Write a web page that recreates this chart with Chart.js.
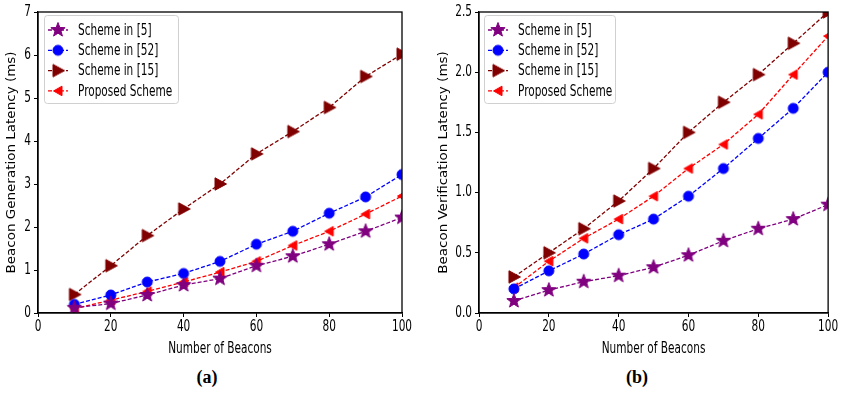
<!DOCTYPE html>
<html><head><meta charset="utf-8">
<script src="https://cdn.jsdelivr.net/npm/chart.js@4/dist/chart.umd.min.js"></script>
<style>
html,body{margin:0;padding:0;background:#fff;}
#wrap{position:relative;width:842px;height:394px;background:#fff;overflow:hidden;}
canvas{position:absolute;top:0;}
.cap{position:absolute;font-family:"Liberation Serif","Times New Roman",serif;font-weight:bold;font-size:18px;color:#000;transform:translateX(-50%);}
</style></head>
<body><div id="wrap">
<canvas id="ca" width="420" height="360" style="left:0"></canvas>
<canvas id="cb" width="422" height="360" style="left:420px"></canvas>
<div class="cap" style="left:207px;top:367px">(a)</div>
<div class="cap" style="left:637px;top:367px">(b)</div>
</div>
<script>
// ---- data ----
const beacons = [10, 20, 30, 40, 50, 60, 70, 80, 90, 100];
const seriesLabels = ['Scheme in [5]', 'Scheme in [52]', 'Scheme in [15]', 'Proposed Scheme'];
const genScheme5   = [0.12, 0.22, 0.42, 0.65, 0.80, 1.10, 1.32, 1.60, 1.90, 2.22];
const genScheme52  = [0.20, 0.42, 0.72, 0.92, 1.20, 1.60, 1.90, 2.32, 2.70, 3.22];
const genScheme15  = [0.43, 1.10, 1.80, 2.42, 3.00, 3.70, 4.22, 4.78, 5.50, 6.02];
const genProposed  = [0.10, 0.30, 0.50, 0.72, 0.95, 1.20, 1.57, 1.90, 2.30, 2.72];
const verScheme5   = [0.10, 0.19, 0.26, 0.31, 0.38, 0.48, 0.60, 0.70, 0.78, 0.90];
const verScheme52  = [0.20, 0.35, 0.49, 0.65, 0.78, 0.97, 1.20, 1.45, 1.70, 2.00];
const verScheme15  = [0.30, 0.50, 0.70, 0.93, 1.20, 1.50, 1.75, 1.98, 2.24, 2.50];
const verProposed  = [0.21, 0.43, 0.62, 0.78, 0.97, 1.20, 1.40, 1.65, 1.98, 2.30];

const FONT = '"DejaVu Sans Condensed","DejaVu Sans",sans-serif';
const colors = ['#800080', '#0000ff', '#800000', '#ff0000'];

// The reference figure's text is horizontally compressed; reproduce that look
// by squeezing glyphs along the page's x direction around their anchor point.
const SQUEEZE = 0.78;
(function () {
  const P = CanvasRenderingContext2D.prototype;
  const orig = P.fillText;
  P.fillText = function (text, x, y, maxWidth) {
    const m = this.getTransform();
    const ax = m.a * x + m.c * y + m.e, ay = m.b * x + m.d * y + m.f;
    this.save();
    this.setTransform(new DOMMatrix().translate(ax, ay).scale(SQUEEZE, 1).translate(-ax, -ay).multiply(m));
    if (maxWidth === undefined) orig.call(this, text, x, y); else orig.call(this, text, x, y, maxWidth / SQUEEZE);
    this.restore();
  };
})();

function makeMarker(kind, color) {
  const s = 18, c = document.createElement('canvas');
  c.width = s; c.height = s;
  const g = c.getContext('2d');
  g.fillStyle = color; g.strokeStyle = color; g.lineWidth = 1;
  const cx = s / 2, cy = s / 2;
  g.beginPath();
  if (kind === 'star') {
    const R = 7.5, r = R * 0.42;
    for (let i = 0; i < 10; i++) {
      const rad = i % 2 === 0 ? R : r;
      const a = -Math.PI / 2 + i * Math.PI / 5;
      const px = cx + rad * Math.cos(a), py = cy + rad * Math.sin(a);
      i === 0 ? g.moveTo(px, py) : g.lineTo(px, py);
    }
    g.closePath();
  } else if (kind === 'circle') {
    g.arc(cx, cy, 5, 0, Math.PI * 2);
  } else if (kind === 'tright') {
    g.moveTo(cx + 6.5, cy); g.lineTo(cx - 5, cy - 6.2); g.lineTo(cx - 5, cy + 6.2); g.closePath();
  } else if (kind === 'tleft') {
    g.moveTo(cx - 4.5, cy); g.lineTo(cx + 4, cy - 4.8); g.lineTo(cx + 4, cy + 4.8); g.closePath();
  }
  g.fill(); g.stroke();
  return c;
}
const markers = [
  makeMarker('star', colors[0]),
  makeMarker('circle', colors[1]),
  makeMarker('tright', colors[2]),
  makeMarker('tleft', colors[3])
];

const framePlugin = {
  id: 'frame',
  afterDraw(chart) {
    const a = chart.chartArea, g = chart.ctx;
    g.save(); g.strokeStyle = '#000'; g.lineWidth = 1.3;
    g.strokeRect(a.left, a.top, a.right - a.left, a.bottom - a.top);
    g.restore();
  }
};
const legendPlugin = {
  id: 'boxLegend',
  afterDraw(chart, args, o) {
    const g = chart.ctx;
    g.save();
    g.fillStyle = 'rgba(255,255,255,0.85)';
    g.strokeStyle = '#d0d0d0'; g.lineWidth = 1;
    const r = 3, x = o.x, y = o.y, w = o.w, h = o.h;
    g.beginPath();
    g.moveTo(x + r, y); g.lineTo(x + w - r, y); g.arcTo(x + w, y, x + w, y + r, r);
    g.lineTo(x + w, y + h - r); g.arcTo(x + w, y + h, x + w - r, y + h, r);
    g.lineTo(x + r, y + h); g.arcTo(x, y + h, x, y + h - r, r);
    g.lineTo(x, y + r); g.arcTo(x, y, x + r, y, r); g.closePath();
    g.fill(); g.stroke();
    chart.data.datasets.forEach((ds, i) => {
      const yy = o.y0 + i * o.dy;
      g.strokeStyle = ds.borderColor; g.lineWidth = 1.3; g.setLineDash([4, 2]);
      g.beginPath(); g.moveTo(o.lx0, yy); g.lineTo(o.lx1, yy); g.stroke();
      g.setLineDash([]);
      const img = ds.pointStyle;
      g.drawImage(img, (o.lx0 + o.lx1) / 2 - img.width / 2, yy - img.height / 2);
      g.fillStyle = '#000'; g.font = '15px ' + FONT; g.textBaseline = 'middle'; g.textAlign = 'left';
      g.fillText(ds.label, o.tx, yy + 1);
    });
    g.restore();
  }
};

function buildChart(id, series, yMax, yStep, yTitle, yWidth, rightPad, decimals, yTitlePad, legend) {
  const datasets = series.map((vals, i) => ({
    label: seriesLabels[i],
    data: beacons.map((b, k) => ({ x: b, y: vals[k] })),
    borderColor: colors[i],
    backgroundColor: colors[i],
    borderWidth: 1.3,
    borderDash: [4, 2],
    pointStyle: markers[i],
    pointRadius: 6,
    tension: 0,
    clip: 0
  }));
  return new Chart(document.getElementById(id), {
    type: 'line',
    data: { datasets },
    plugins: [framePlugin, legendPlugin],
    options: {
      responsive: false, animation: false, devicePixelRatio: 1,
      layout: { padding: { top: 9, right: rightPad, left: 0, bottom: 0 } },
      plugins: { legend: { display: false }, tooltip: { enabled: false }, boxLegend: legend },
      scales: {
        x: {
          type: 'linear', min: 0, max: 100,
          afterFit: s => { s.height = 47; },
          ticks: { stepSize: 20, color: '#000', font: { family: FONT, size: 15 }, padding: 1, maxRotation: 0 },
          grid: { drawOnChartArea: false, tickLength: 4, color: '#000' },
          border: { color: '#000', width: 1.3 },
          title: { display: true, text: 'Number of Beacons', color: '#000', font: { family: FONT, size: 15 }, padding: { top: 0, bottom: 2 } }
        },
        y: {
          min: 0, max: yMax,
          afterFit: s => { s.width = yWidth; },
          ticks: { stepSize: yStep, color: '#000', font: { family: FONT, size: 15 }, padding: 3,
                   callback: v => Number(v).toFixed(decimals) },
          grid: { drawOnChartArea: false, tickLength: 4, color: '#000' },
          border: { color: '#000', width: 1.3 },
          title: { display: true, text: yTitle, color: '#000', font: { family: FONT, size: 15 }, padding: { top: yTitlePad, bottom: 0 } }
        }
      }
    }
  });
}

buildChart('ca', [genScheme5, genScheme52, genScheme15, genProposed], 7, 1,
  'Beacon Generation Latency (ms)', 38, 18, 0, 3,
  { x: 44.5, y: 15.5, w: 134, h: 88, y0: 30, dy: 20.3, lx0: 48, lx1: 68, tx: 78 });
buildChart('cb', [verScheme5, verScheme52, verScheme15, verProposed], 2.5, 0.5,
  'Beacon Verification Latency (ms)', 59, 12, 1, 15,
  { x: 64.5, y: 15.5, w: 131, h: 88, y0: 30, dy: 20.3, lx0: 68, lx1: 88, tx: 98 });
</script>
</body></html>
